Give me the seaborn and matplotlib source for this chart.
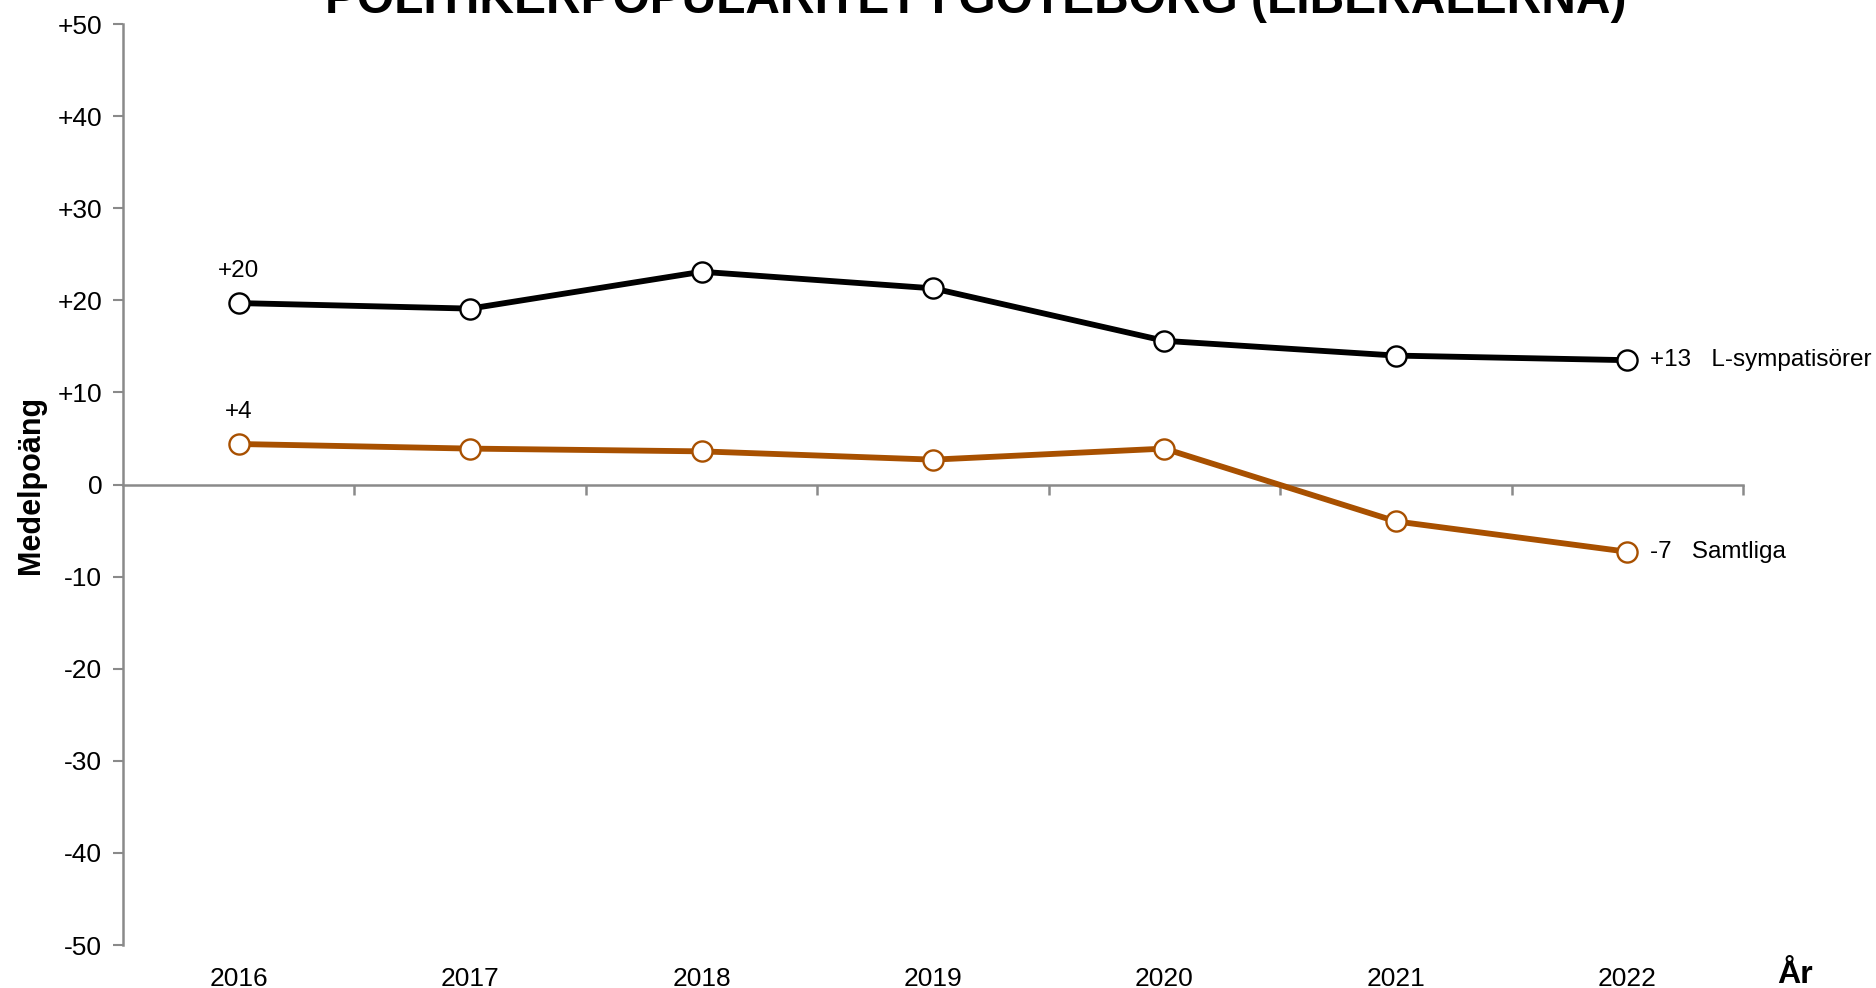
import numpy as np
import pandas as pd
import matplotlib
matplotlib.use('Agg')
import matplotlib.pyplot as plt
import seaborn as sns

# data
years = ['2016', '2017', '2018', '2019', '2020', '2021', '2022']
l_symp = [19.7, 19.1, 23.1, 21.3, 15.6, 14.0, 13.5]
samtliga = [4.4, 3.9, 3.6, 2.7, 3.9, -4.0, -7.3]
y_ticks = [-50, -40, -30, -20, -10, 0, 10, 20, 30, 40, 50]

sns.set_theme(style='white')
plt.rcParams['font.family'] = ['Liberation Sans', 'DejaVu Sans']
plt.rcParams['text.color'] = 'black'
plt.rcParams['axes.labelcolor'] = 'black'
plt.rcParams['xtick.color'] = 'black'
plt.rcParams['ytick.color'] = 'black'

df = pd.DataFrame({
    'pos': list(range(len(years))) * 2,
    'value': l_symp + samtliga,
    'grupp': ['L-sympatisörer'] * len(years) + ['Samtliga'] * len(years),
})

fig = plt.figure(figsize=(18.76, 9.88), dpi=100)
ax = fig.add_axes([0.0656, 0.0435, 0.8635, 0.9322])

colors = {'L-sympatisörer': '#000000', 'Samtliga': '#A85000'}
for grupp, sub in df.groupby('grupp'):
    sns.lineplot(data=sub, x='pos', y='value', ax=ax, color=colors[grupp],
                 linewidth=4.2, marker='o', markersize=14.5,
                 markerfacecolor='white', markeredgecolor=colors[grupp],
                 markeredgewidth=1.7, legend=False, zorder=3)

ax.set_xlim(-0.5, len(years) - 0.5)
ax.set_ylim(-50, 50)

# axes styling
grey = '#8a8a8a'
ax.spines['top'].set_visible(False)
ax.spines['right'].set_visible(False)
ax.spines['left'].set_color(grey)
ax.spines['left'].set_linewidth(1.8)
ax.spines['bottom'].set_position(('data', 0))
ax.spines['bottom'].set_color(grey)
ax.spines['bottom'].set_linewidth(1.8)

ax.set_yticks(y_ticks)
ax.set_yticklabels([f'+{v}' if v > 0 else str(v) for v in y_ticks], fontsize=19)
ax.tick_params(axis='y', direction='out', length=7, width=1.5, color=grey,
               labelcolor='black', left=True, pad=8)

ax.set_xticks([])
ax.set_xticks(np.arange(len(years)) + 0.5, minor=True)
ax.tick_params(axis='x', which='minor', direction='out', length=7, width=1.8,
               color=grey, bottom=True)

sec = ax.secondary_xaxis(0.0)
sec.set_xticks(range(len(years)))
sec.set_xticklabels(years, fontsize=19)
sec.tick_params(length=0, pad=16, labelcolor='black')
sec.spines['bottom'].set_visible(False)

ax.set_xlabel('')
ax.set_ylabel('Medelpoäng', fontsize=22, fontweight='bold', labelpad=8.5)

# labels on points
ax.annotate('+20', (0, l_symp[0]), xytext=(0, 15), textcoords='offset points',
            ha='center', va='bottom', fontsize=17.5)
ax.annotate('+4', (0, samtliga[0]), xytext=(0, 15), textcoords='offset points',
            ha='center', va='bottom', fontsize=17.5)
ax.annotate('+13   L-sympatisörer', (6, l_symp[-1]), xytext=(16, 0),
            textcoords='offset points', ha='left', va='center', fontsize=17.5)
ax.annotate('-7   Samtliga', (6, samtliga[-1]), xytext=(16, 0),
            textcoords='offset points', ha='left', va='center', fontsize=17.5)

ax.text(1.021, -0.016, 'År', transform=ax.transAxes, fontsize=23,
        fontweight='bold', ha='left', va='top')

fig.text(0.52, 1 - 13 / 988, 'POLITIKERPOPULARITET I GÖTEBORG (LIBERALERNA)',
         ha='center', va='baseline', fontsize=34.5, fontweight='bold')

fig.savefig('out.png', dpi=100)
